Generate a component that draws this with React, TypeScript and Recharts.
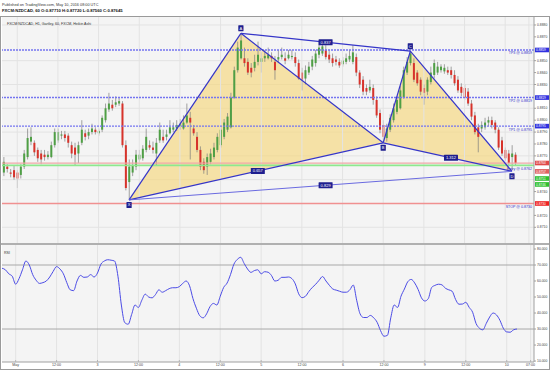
import React from 'react';
import {
  ComposedChart,
  Bar,
  Line,
  Area,
  XAxis,
  YAxis,
  CartesianGrid,
  ReferenceLine,
  ReferenceDot,
} from 'recharts';

// Heikin Ashi hourly candles, FXCM:NZDCAD: [open, high, low, close]
const HA_CANDLES: [number, number, number, number][] = [
  [0.8756, 0.8769, 0.8753, 0.8765], [0.8761, 0.8763, 0.8756, 0.8759], [0.8756, 0.8759, 0.8752, 0.8755],
  [0.8758, 0.8762, 0.875, 0.8752], [0.8756, 0.8758, 0.8743, 0.8751], [0.8754, 0.8763, 0.8751, 0.8761],
  [0.8761, 0.8775, 0.8759, 0.8772], [0.8769, 0.8793, 0.8767, 0.8785], [0.8782, 0.8794, 0.8779, 0.8786],
  [0.8781, 0.8783, 0.877, 0.8773], [0.8775, 0.8777, 0.8765, 0.8768], [0.8772, 0.8775, 0.8763, 0.8767],
  [0.8771, 0.8775, 0.8766, 0.8769], [0.8769, 0.8774, 0.8767, 0.8771], [0.8769, 0.8782, 0.8768, 0.8779],
  [0.8779, 0.8793, 0.8777, 0.879], [0.8783, 0.8793, 0.8781, 0.879], [0.8787, 0.8791, 0.8784, 0.8788],
  [0.8788, 0.8791, 0.8782, 0.8785], [0.8787, 0.8789, 0.8777, 0.8781], [0.8779, 0.8782, 0.8768, 0.8772],
  [0.8777, 0.8781, 0.8762, 0.8771], [0.8772, 0.8782, 0.8764, 0.8779], [0.8781, 0.88, 0.8779, 0.8792],
  [0.8789, 0.8792, 0.8783, 0.8786], [0.8787, 0.8793, 0.8784, 0.879], [0.879, 0.8797, 0.8788, 0.8793],
  [0.8792, 0.8794, 0.8788, 0.879], [0.8789, 0.8793, 0.8787, 0.8791], [0.8792, 0.8804, 0.879, 0.8802],
  [0.88, 0.8814, 0.8798, 0.881], [0.8809, 0.8823, 0.8807, 0.8814], [0.8813, 0.8817, 0.8808, 0.881],
  [0.8813, 0.882, 0.8811, 0.8815], [0.8814, 0.8819, 0.8812, 0.8816], [0.8814, 0.8816, 0.8777, 0.8779],
  [0.8779, 0.8783, 0.8741, 0.8743], [0.8748, 0.8767, 0.8733, 0.8761], [0.8756, 0.8767, 0.8753, 0.8762],
  [0.8761, 0.8775, 0.8758, 0.8771], [0.8767, 0.8775, 0.8765, 0.8771], [0.8768, 0.8779, 0.8766, 0.8776],
  [0.8775, 0.8793, 0.8773, 0.8786], [0.8779, 0.8783, 0.8775, 0.8777], [0.8777, 0.8782, 0.8772, 0.8775],
  [0.8772, 0.8785, 0.8762, 0.8781], [0.8783, 0.8798, 0.8781, 0.8792], [0.8786, 0.8792, 0.8781, 0.8783],
  [0.8786, 0.8792, 0.8783, 0.8788], [0.8789, 0.88, 0.8788, 0.8794], [0.8792, 0.8798, 0.879, 0.8794],
  [0.8793, 0.88, 0.8791, 0.8796], [0.8795, 0.8801, 0.8792, 0.8797], [0.8793, 0.8804, 0.8792, 0.8798],
  [0.8798, 0.8814, 0.8797, 0.8804], [0.8802, 0.8807, 0.8767, 0.8798], [0.8793, 0.8796, 0.8787, 0.8789],
  [0.8786, 0.879, 0.8773, 0.8775], [0.8775, 0.8778, 0.8758, 0.8761], [0.8765, 0.8768, 0.8755, 0.8758],
  [0.8761, 0.8772, 0.8754, 0.8769], [0.8765, 0.8776, 0.8763, 0.8772], [0.8769, 0.8781, 0.8767, 0.8777],
  [0.8775, 0.8789, 0.8773, 0.8786], [0.8779, 0.8795, 0.8777, 0.8792], [0.8786, 0.8801, 0.8784, 0.8798],
  [0.8792, 0.8806, 0.879, 0.8803], [0.8794, 0.8823, 0.8793, 0.8819], [0.8819, 0.8845, 0.8818, 0.8842],
  [0.8842, 0.8866, 0.884, 0.8861], [0.8852, 0.8873, 0.8851, 0.8867], [0.8852, 0.8861, 0.8845, 0.8848],
  [0.8849, 0.8852, 0.8838, 0.884], [0.8844, 0.8848, 0.8836, 0.884], [0.8844, 0.8855, 0.8841, 0.8849],
  [0.8849, 0.8866, 0.8846, 0.8855], [0.8849, 0.8857, 0.884, 0.8852], [0.8852, 0.8859, 0.8849, 0.8854],
  [0.8852, 0.8861, 0.8851, 0.8855], [0.8854, 0.8857, 0.8849, 0.8852], [0.8849, 0.8854, 0.8834, 0.8842],
  [0.8851, 0.8859, 0.8848, 0.8853], [0.8853, 0.8861, 0.8851, 0.8855], [0.8852, 0.8857, 0.8847, 0.885],
  [0.8852, 0.8859, 0.8851, 0.8855], [0.8853, 0.8859, 0.8851, 0.8854], [0.8853, 0.8857, 0.8845, 0.8848],
  [0.8848, 0.8851, 0.8834, 0.8835], [0.884, 0.8844, 0.8825, 0.8834], [0.8835, 0.8846, 0.883, 0.8842],
  [0.884, 0.8849, 0.8838, 0.8845], [0.8845, 0.8854, 0.8842, 0.8851], [0.8848, 0.8859, 0.8845, 0.8856],
  [0.8855, 0.8867, 0.8852, 0.8861], [0.8856, 0.8867, 0.8854, 0.8862], [0.8859, 0.8863, 0.8851, 0.8853],
  [0.8855, 0.8859, 0.8848, 0.8851], [0.8852, 0.8856, 0.8845, 0.8848], [0.8851, 0.8854, 0.8846, 0.8849],
  [0.8849, 0.8852, 0.8844, 0.8846], [0.8847, 0.8853, 0.8845, 0.885], [0.8849, 0.8856, 0.8847, 0.8852],
  [0.8851, 0.8859, 0.8849, 0.8854], [0.8849, 0.8863, 0.8847, 0.8857], [0.8853, 0.8856, 0.8837, 0.884],
  [0.884, 0.8842, 0.8827, 0.883], [0.8834, 0.8837, 0.8821, 0.8824], [0.8827, 0.883, 0.8821, 0.8824],
  [0.8825, 0.8834, 0.8823, 0.8828], [0.8827, 0.883, 0.8813, 0.8817], [0.8817, 0.882, 0.8802, 0.8804],
  [0.8806, 0.8809, 0.8789, 0.8792], [0.8796, 0.88, 0.8781, 0.8786], [0.8785, 0.8797, 0.8782, 0.8793],
  [0.8792, 0.8805, 0.879, 0.8802], [0.88, 0.8814, 0.8798, 0.881], [0.8807, 0.882, 0.8805, 0.8817],
  [0.881, 0.8829, 0.8809, 0.8825], [0.8819, 0.8845, 0.8818, 0.8842], [0.884, 0.8853, 0.8838, 0.8849],
  [0.8848, 0.8858, 0.8846, 0.8856], [0.8848, 0.8852, 0.8832, 0.8834], [0.884, 0.8842, 0.8829, 0.8831],
  [0.8834, 0.8836, 0.8821, 0.8824], [0.8827, 0.883, 0.8813, 0.8823], [0.8824, 0.8836, 0.8821, 0.8834],
  [0.8832, 0.8845, 0.883, 0.884], [0.8838, 0.8851, 0.8835, 0.8848], [0.884, 0.8849, 0.8838, 0.8845],
  [0.8842, 0.8847, 0.884, 0.8845], [0.8841, 0.8847, 0.8839, 0.8844], [0.8842, 0.8845, 0.8838, 0.884],
  [0.8842, 0.8845, 0.8835, 0.8838], [0.8838, 0.8842, 0.8829, 0.8831], [0.8834, 0.8837, 0.8823, 0.8825],
  [0.8828, 0.8831, 0.882, 0.8823], [0.8827, 0.883, 0.8817, 0.8819], [0.8824, 0.8827, 0.8812, 0.8814],
  [0.8814, 0.8817, 0.88, 0.8803], [0.8804, 0.8807, 0.8788, 0.879], [0.8794, 0.8797, 0.8773, 0.8786],
  [0.8793, 0.8799, 0.879, 0.8796], [0.8794, 0.8802, 0.8792, 0.8798], [0.8798, 0.8803, 0.8795, 0.88],
  [0.88, 0.8803, 0.8793, 0.8796], [0.8798, 0.88, 0.8789, 0.8792], [0.8792, 0.8794, 0.8775, 0.8777],
  [0.8783, 0.8786, 0.877, 0.8772], [0.8775, 0.8777, 0.8766, 0.8768], [0.8772, 0.8775, 0.8762, 0.8764],
  [0.8769, 0.8779, 0.8758, 0.8772], [0.8771, 0.8773, 0.8762, 0.8764],
];

// RSI(14) per candle
const RSI = [
  68, 67, 64.5, 63, 58, 61.5, 67, 72.5, 70, 64, 60.5, 58.5, 59, 60, 62.5, 66, 69, 67.5, 64.5, 59,
  54.5, 54, 60, 63.5, 62.3, 62.5, 64, 62.5, 65, 70.5, 72.5, 73.3, 73, 72.5, 63, 45, 34, 33, 39, 45,
  43.5, 48, 51.8, 50, 49.5, 51.5, 54.5, 53, 54, 55.2, 55.8, 55.8, 56.5, 58.5, 60, 57, 49, 43, 38.3, 37,
  39.5, 44, 46, 45, 50.5, 56, 58.7, 64, 70.5, 73.5, 74.8, 71, 67.5, 65.4, 66.5, 67, 64.5, 65.8, 65.5, 63.5,
  60, 60.5, 62.3, 62.3, 62.5, 61.5, 58.2, 52, 49.6, 50.5, 53.5, 56, 58, 60.5, 62.8, 60, 57.3, 55, 54.3, 53.6,
  53, 53, 54.5, 57.5, 48, 39.5, 37.2, 37.2, 38.5, 37, 34.2, 29, 25.5, 26, 37, 45, 43.5, 50.5, 55, 59.6,
  61, 58.8, 54.8, 49.5, 47.5, 49, 56, 57.3, 58, 57.6, 55.5, 54.5, 53.6, 48.5, 45.5, 45.6, 46.7, 43.5, 40.5, 33.5,
  30.5, 29.5, 33.5, 37.5, 40, 38.8, 35.5, 30.5, 28.2, 28, 29.5, 30,
];

const SLOTS = 157;
const TIME_TICKS = [4, 16, 28, 40, 52, 64, 76, 88, 100, 112, 124, 136, 148, 155];
const TIME_LABELS = ['May', '12:00', '3', '12:00', '4', '12:00', '5', '12:00', '6', '12:00', '9', '12:00', '10', '07:00'];
const PRICE_TICKS = [
  0.871, 0.872, 0.873, 0.874, 0.875, 0.876, 0.877, 0.878, 0.879,
  0.88, 0.881, 0.882, 0.883, 0.884, 0.885, 0.886, 0.887, 0.888,
];
const RSI_TICKS = [10, 20, 30, 40, 50, 60, 70, 80];

// XABCD pattern pivots
const PIVOT_NAMES = ['X', 'A', 'B', 'C', 'D'];
const PIVOT_BARS = [37, 70, 112, 120, 150];
const PIVOT_PRICES = [0.8733, 0.8873, 0.8781, 0.8858, 0.8757];

const LEVEL_NAMES = ['TP3', 'TP2', 'TP1', 'Entry', 'STOP'];
const LEVEL_PRICES = [0.8859, 0.8819, 0.8795, 0.8762, 0.873];

const GREEN = '#4f9f45';
const RED = '#d7332b';
const PATTERN = '#3535c8';
const LEVEL_BLUE = '#7474f0';
const FONT = 'Liberation Sans, Arial, sans-serif';

const [X, A, B, C, D] = PIVOT_PRICES;
const [iX, iA, iB, iC, iD] = PIVOT_BARS;
const onLine = (i0: number, p0: number, i1: number, p1: number, i: number) =>
  p0 + ((p1 - p0) * (i - i0)) / (i1 - i0);

const data = Array.from({ length: SLOTS }, (_, i) => {
  const k = HA_CANDLES[i];
  const row: any = { i, rsi: RSI[i] ?? null };
  if (k) {
    row.o = k[0];
    row.h = k[1];
    row.l = k[2];
    row.c = k[3];
  }
  row.xab = null;
  row.bcd = null;
  return row;
});
data[iX].xab = [X, X];
data[iA].xab = [onLine(iX, X, iB, B, iA), A];
data[iB].xab = [B, B];
data[iB].bcd = [B, B];
data[iC].bcd = [onLine(iB, B, iD, D, iC), C];
data[iD].bcd = [D, D];

const ratios = [
  { a: iX, pa: X, b: iB, pb: B, at: 75, text: ((A - B) / (A - X)).toFixed(3) },
  { a: iA, pa: A, b: iC, pb: C, at: 95, text: ((C - B) / (A - B)).toFixed(3) },
  { a: iB, pa: B, b: iD, pb: D, at: 132, text: ((C - D) / (C - B)).toFixed(3) },
  { a: iX, pa: X, b: iD, pb: D, at: 95, text: ((A - D) / (A - X)).toFixed(3) },
];

const lastClose = HA_CANDLES[HA_CANDLES.length - 1][3];
const axisBoxes = [
  { p: LEVEL_PRICES[0], fill: '#3030e0' },
  { p: LEVEL_PRICES[1], fill: '#3030e0' },
  { p: LEVEL_PRICES[2], fill: '#3030e0' },
  { p: lastClose, fill: '#e04a4a' },
  { p: D, fill: '#e06060' },
  { p: 0.8751, fill: '#2fbf2f' },
  { p: 0.8746, fill: '#2fbf2f' },
  { p: LEVEL_PRICES[4], fill: '#ee2222' },
];
// price labels hidden behind a coloured axis box
const shownPriceTicks = PRICE_TICKS.filter((t) => axisBoxes.every((b) => Math.abs(b.p - t) > 0.0004));

const Candle = (props: any) => {
  const { x, y, width, height, payload } = props;
  if (!payload || payload.h == null) return <g />;
  const top = Math.min(y, y + height);
  const span = Math.abs(height);
  const k = payload.h > payload.l ? span / (payload.h - payload.l) : 0;
  const yo = top + (payload.h - payload.o) * k;
  const yc = top + (payload.h - payload.c) * k;
  const cx = x + width / 2;
  return (
    <g>
      <line x1={cx} x2={cx} y1={top} y2={top + span} stroke="#7d7d7d" strokeWidth={0.7} />
      <rect
        x={x}
        y={Math.min(yo, yc)}
        width={width}
        height={Math.max(Math.abs(yc - yo), 0.8)}
        fill={payload.c >= payload.o ? GREEN : RED}
      />
    </g>
  );
};

const Tag = ({ cx, cy, text, dy = 0 }: any) => {
  const w = text.length * 2.2 + 3;
  return (
    <g>
      <rect x={cx - w / 2} y={cy + dy - 3} width={w} height={6} fill="#1f1f8f" rx={0.5} />
      <text x={cx} y={cy + dy + 1.4} fontSize={4} fill="#fff" textAnchor="middle" fontFamily={FONT}>
        {text}
      </text>
    </g>
  );
};

const LevelLabel = (props: any) => {
  const { viewBox, text, color } = props;
  if (!viewBox) return <g />;
  const right = viewBox.x + viewBox.width;
  return (
    <text x={right - 2} y={viewBox.y + 4.5} fontSize={3.6} fill={color} textAnchor="end" fontFamily={FONT}>
      {text}
    </text>
  );
};

const AxisBox = (props: any) => {
  const { viewBox, text, fill } = props;
  if (!viewBox) return <g />;
  const right = viewBox.x + viewBox.width;
  return (
    <g>
      <rect x={right + 1} y={viewBox.y - 2.3} width={15} height={4.6} fill={fill} />
      <text x={right + 2} y={viewBox.y + 1.2} fontSize={3.2} fill="#fff" fontFamily={FONT}>
        {text}
      </text>
    </g>
  );
};

const TimeTick = (props: any) => {
  const { x, y, payload } = props;
  const k = TIME_TICKS.indexOf(payload.value);
  if (k < 0) return <g />;
  return (
    <g>
      <line x1={x} x2={x} y1={y - 2} y2={y - 0.5} stroke="#999" strokeWidth={0.6} />
      <text x={x} y={y + 3.6} fontSize={3.6} fill="#444" textAnchor="middle" fontFamily={FONT}>
        {TIME_LABELS[k]}
      </text>
    </g>
  );
};

export default function App() {
  return (
    <div
      style={{
        position: 'absolute',
        left: 0,
        top: 0,
        width: 550,
        height: 370,
        background: '#fff',
        fontFamily: FONT,
        overflow: 'hidden',
      }}
    >
      <svg width={550} height={17} style={{ position: 'absolute', left: 0, top: 0 }}>
        <text x={2} y={6} fontSize={3.8} fill="#333" fontFamily={FONT}>
          Published on TradingView.com, May 10, 2016 08:00 UTC
        </text>
        <text x={2} y={11.5} fontSize={4.2} fill="#111" fontWeight="bold" fontFamily={FONT}>
          FXCM:NZDCAD, 60 O:0.87710 H:0.87720 L:0.87560 C:0.87645
        </text>
      </svg>

      <div style={{ position: 'absolute', left: 0, top: 17 }}>
        <ComposedChart
          width={550}
          height={226}
          data={data}
          margin={{ top: 0, right: 0, bottom: 0, left: 2 }}
          barCategoryGap="26%"
        >
          <CartesianGrid vertical={false} stroke="#e3e3e3" fill="#f4f4f4" horizontalValues={PRICE_TICKS} />
          {TIME_TICKS.map((t) => (
            <ReferenceLine key={'v' + t} x={t} stroke="#e3e3e3" />
          ))}
          <XAxis dataKey="i" hide />
          <YAxis
            orientation="right"
            width={16}
            domain={[0.86968, 0.88867]}
            allowDataOverflow
            ticks={shownPriceTicks}
            tickFormatter={(v: number) => v.toFixed(4)}
            tick={{ fontSize: 3.4, fill: '#444', fontFamily: FONT }}
            tickSize={2}
            tickMargin={1}
            axisLine={{ stroke: '#a0a0a0' }}
            tickLine={{ stroke: '#a0a0a0' }}
          />
          <ReferenceLine
            y={LEVEL_PRICES[0]}
            stroke={LEVEL_BLUE}
            strokeWidth={1.4}
            strokeDasharray="2 1"
            label={<LevelLabel text={`TP3 @ ${LEVEL_PRICES[0].toFixed(4)}`} color="#3030c8" />}
          />
          <ReferenceLine
            y={LEVEL_PRICES[1]}
            stroke={LEVEL_BLUE}
            strokeWidth={1.4}
            strokeDasharray="2 1"
            label={<LevelLabel text={`TP2 @ ${LEVEL_PRICES[1].toFixed(4)}`} color="#3030c8" />}
          />
          <ReferenceLine
            y={LEVEL_PRICES[2]}
            stroke={LEVEL_BLUE}
            strokeWidth={1.4}
            strokeDasharray="2 1"
            label={<LevelLabel text={`TP1 @ ${LEVEL_PRICES[2].toFixed(4)}`} color="#3030c8" />}
          />
          <ReferenceLine y={lastClose} stroke="#f0a8a8" strokeWidth={1.2} />
          <ReferenceLine
            y={LEVEL_PRICES[3]}
            stroke="#8ee88e"
            strokeWidth={1.6}
            label={<LevelLabel text={`Entry @ ${LEVEL_PRICES[3].toFixed(4)}`} color="#3030c8" />}
          />
          <ReferenceLine
            y={LEVEL_PRICES[4]}
            stroke="#f09090"
            strokeWidth={1.4}
            label={<LevelLabel text={`STOP @ ${LEVEL_PRICES[4].toFixed(4)}`} color="#3030c8" />}
          />
          <Area
            dataKey="xab"
            type="linear"
            connectNulls
            fill="#f6d77c"
            fillOpacity={0.65}
            stroke="none"
            isAnimationActive={false}
          />
          <Area
            dataKey="bcd"
            type="linear"
            connectNulls
            fill="#f6d77c"
            fillOpacity={0.65}
            stroke="none"
            isAnimationActive={false}
          />
          <Bar
            dataKey={(d: any) => (d.h == null ? null : [d.l, d.h])}
            shape={Candle}
            isAnimationActive={false}
          />
          {PIVOT_BARS.slice(0, 4).map((b, k) => (
            <ReferenceLine
              key={'leg' + k}
              segment={[
                { x: b, y: PIVOT_PRICES[k] },
                { x: PIVOT_BARS[k + 1], y: PIVOT_PRICES[k + 1] },
              ]}
              stroke={PATTERN}
              strokeWidth={1.2}
              ifOverflow="visible"
            />
          ))}
          {ratios.map((r, k) => (
            <ReferenceLine
              key={'rl' + k}
              segment={[
                { x: r.a, y: r.pa },
                { x: r.b, y: r.pb },
              ]}
              stroke={k === 3 ? '#6a6ae0' : PATTERN}
              strokeWidth={k === 3 ? 1 : 1.2}
              ifOverflow="visible"
            />
          ))}
          {ratios.map((r, k) => (
            <ReferenceDot
              key={'rt' + k}
              x={r.at}
              y={onLine(r.a, r.pa, r.b, r.pb, r.at)}
              ifOverflow="visible"
              shape={(p: any) => <Tag cx={p.cx} cy={p.cy} text={r.text} />}
            />
          ))}
          {PIVOT_BARS.map((b, k) => (
            <ReferenceDot
              key={'pv' + k}
              x={b}
              y={PIVOT_PRICES[k]}
              ifOverflow="visible"
              shape={(p: any) => (
                <Tag cx={p.cx} cy={p.cy} text={PIVOT_NAMES[k]} dy={k % 2 === 0 ? 5 : -5} />
              )}
            />
          ))}
          {axisBoxes.map((bx, k) => (
            <ReferenceLine
              key={'ab' + k}
              y={bx.p}
              stroke="none"
              label={<AxisBox text={bx.p.toFixed(4)} fill={bx.fill} />}
            />
          ))}
        </ComposedChart>
      </div>

      <div style={{ position: 'absolute', left: 0, top: 243, width: 550, height: 2, borderTop: '1px solid #b0b0b0', borderBottom: '1px solid #b0b0b0', boxSizing: 'border-box' }} />

      <div style={{ position: 'absolute', left: 0, top: 245 }}>
        <ComposedChart
          width={550}
          height={125}
          data={data}
          margin={{ top: 0, right: 0, bottom: 0, left: 2 }}
        >
          <CartesianGrid vertical={false} horizontal={false} fill="#f4f4f4" />
          {TIME_TICKS.map((t) => (
            <ReferenceLine key={'rv' + t} x={t} stroke="#e3e3e3" />
          ))}
          <XAxis
            dataKey="i"
            interval={0}
            height={8}
            tick={<TimeTick />}
            tickLine={false}
            tickSize={0}
            tickMargin={0}
            axisLine={{ stroke: '#a0a0a0' }}
          />
          <YAxis
            orientation="right"
            width={16}
            domain={[9.4, 82.5]}
            allowDataOverflow
            ticks={RSI_TICKS}
            tickFormatter={(v: number) => v.toFixed(3)}
            tick={{ fontSize: 3.4, fill: '#444', fontFamily: FONT }}
            tickSize={2}
            tickMargin={1}
            axisLine={{ stroke: '#a0a0a0' }}
            tickLine={{ stroke: '#a0a0a0' }}
          />
          <ReferenceLine y={70} stroke="#a8a8a8" strokeWidth={1} />
          <ReferenceLine y={30} stroke="#a8a8a8" strokeWidth={1} />
          <Line
            dataKey="rsi"
            type="monotone"
            stroke="#4b4be6"
            strokeWidth={1}
            dot={false}
            isAnimationActive={false}
          />
        </ComposedChart>
        <svg width={40} height={12} style={{ position: 'absolute', left: 0, top: 0 }}>
          <text x={4} y={9} fontSize={3.6} fill="#333" fontFamily={FONT}>
            RSI
          </text>
        </svg>
      </div>

      <svg width={120} height={12} style={{ position: 'absolute', left: 0, top: 17 }}>
        <text x={7} y={7.5} fontSize={3.6} fill="#333" fontFamily={FONT}>
          FXCM:NZDCAD, H1, Gartley, 60, FXCM, Heikin Ashi
        </text>
      </svg>

      <div
        style={{
          position: 'absolute',
          left: 0,
          top: 16,
          width: 550,
          height: 354,
          border: '1px solid #9a9a9a',
          boxSizing: 'border-box',
          pointerEvents: 'none',
        }}
      />
    </div>
  );
}
